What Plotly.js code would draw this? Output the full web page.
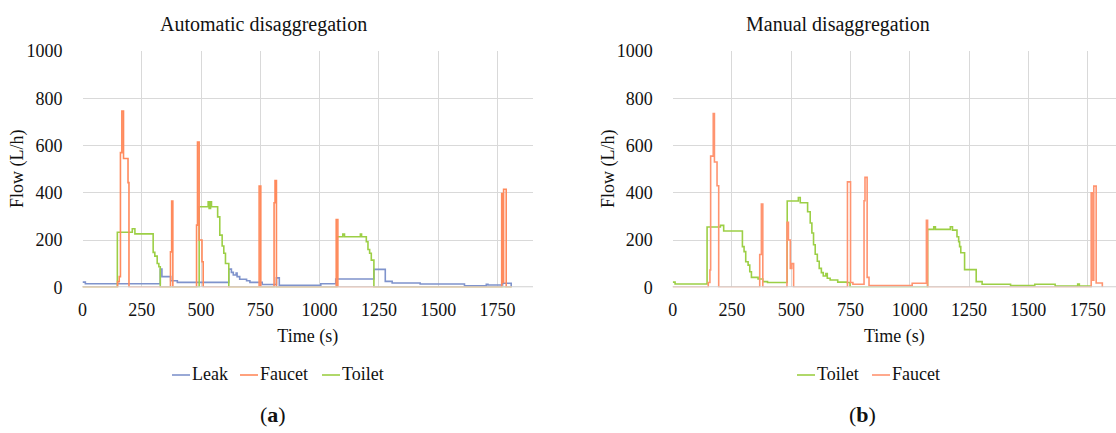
<!DOCTYPE html>
<html>
<head>
<meta charset="utf-8">
<script src="https://cdn.plot.ly/plotly-3.0.1.min.js"></script>
<style>
  html, body { margin: 0; padding: 0; background: #ffffff; }
  #chart { width: 1116px; height: 433px; }
</style>
</head>
<body>
<div id="chart"></div>
<script>
// ---- (a) Automatic disaggregation: step series, time in s, flow in L/h ----
const autoLeakT   = [0, 12, 328, 335, 372, 400, 617, 628, 636, 648, 652, 663, 692, 706, 758, 818, 830, 1005, 1068, 1229, 1277, 1306, 1424, 1611, 1703, 1710, 1772, 1808];
const autoLeakQ   = [22, 15, 77, 45, 28, 21, 77, 63, 52, 60, 45, 34, 28, 21, 12, 40, 8, 15, 35, 76, 25, 18, 14, 6, 13, 10, 17, 0];

const autoFaucetT = [0, 148, 155, 160, 166, 173, 192, 196, 371, 376, 381, 481, 485, 492, 504, 509, 745, 752, 808, 812, 818, 1070, 1077, 1768, 1772, 1776, 1787, 1810];
const autoFaucetQ = [0, 24, 45, 570, 746, 545, 443, 0, 150, 365, 0, 263, 615, 200, 108, 0, 428, 0, 358, 452, 0, 287, 0, 397, 20, 415, 0, 0];

const autoToiletT = [0, 147, 210, 221, 298, 305, 315, 322, 328, 492, 530, 534, 540, 544, 570, 579, 589, 596, 603, 617, 1073, 1098, 1105, 1172, 1177, 1197, 1204, 1211, 1218, 1229, 1810];
const autoToiletQ = [0, 233, 248, 226, 148, 132, 101, 87, 0, 341, 362, 334, 362, 341, 298, 221, 175, 144, 101, 0, 214, 225, 214, 225, 214, 193, 160, 144, 115, 0, 0];

// ---- (b) Manual disaggregation ----
const manToiletT  = [0, 10, 145, 201, 215, 294, 301, 308, 318, 325, 332, 360, 380, 400, 483, 530, 538, 569, 580, 587, 594, 601, 610, 618, 627, 635, 646, 652, 664, 696, 735, 748, 1075, 1101, 1108, 1171, 1180, 1199, 1206, 1210, 1215, 1231, 1280, 1305, 1425, 1527, 1613, 1708, 1715, 1762];
const manToiletQ  = [22, 14, 255, 262, 238, 172, 151, 108, 94, 66, 42, 35, 24, 20, 365, 380, 358, 320, 272, 230, 180, 140, 110, 80, 62, 48, 58, 38, 31, 22, 20, 0, 245, 256, 245, 256, 242, 214, 193, 172, 146, 75, 24, 13, 7, 13, 5, 14, 5, 0];

const manFaucetT  = [0, 150, 157, 160, 171, 176, 187, 194, 367, 374, 380, 482, 488, 496, 502, 510, 737, 750, 760, 807, 811, 820, 828, 1010, 1070, 1075, 1765, 1772, 1776, 1786, 1812];
const manFaucetQ  = [0, 20, 73, 555, 735, 530, 430, 0, 139, 352, 0, 275, 200, 80, 100, 0, 446, 20, 13, 366, 465, 42, 7, 17, 284, 0, 400, 30, 428, 18, 0];

// ---- legend entries per panel ----
const legendA = ['Leak', 'Faucet', 'Toilet'];
const legendB = ['Toilet', 'Faucet'];

const C = {
  leak: '#7F93CC',
  faucet: '#FF8A5C',
  faucetB: '#FF9470',
  toilet: '#9CCF45',
  grid: '#D9D9D9',
  axis: '#D0D0D0',
  text: '#111111'
};
const FONT = 'Liberation Serif, serif';
const W = 1116, H = 433;
const px = x => x / W;           // pixel -> paper x
const py = y => (H - y) / H;     // pixel -> paper y

function stepTrace(t, q, color, xa, ya, name) {
  return {
    x: t, y: q, name: name, type: 'scatter', mode: 'lines',
    line: { color: color, width: 1.6, shape: 'hv' },
    xaxis: xa, yaxis: ya, showlegend: false, hoverinfo: 'skip'
  };
}

const traces = [
  stepTrace(autoLeakT, autoLeakQ, C.leak, 'x', 'y', 'Leak'),
  stepTrace(autoToiletT, autoToiletQ, C.toilet, 'x', 'y', 'Toilet'),
  stepTrace(autoFaucetT, autoFaucetQ, C.faucet, 'x', 'y', 'Faucet'),
  stepTrace(manToiletT, manToiletQ, C.toilet, 'x2', 'y2', 'Toilet'),
  stepTrace(manFaucetT, manFaucetQ, C.faucetB, 'x2', 'y2', 'Faucet')
];

const yDom = [py(287.3), py(51)];

function xAxis(domain, range, anchor) {
  return {
    domain: domain, range: range, anchor: anchor, automargin: false,
    tickmode: 'linear', tick0: 0, dtick: 250,
    showgrid: true, gridcolor: C.grid, gridwidth: 1,
    zeroline: false, showline: false,
    ticks: '', ticklabelstandoff: 10,
    tickfont: { family: FONT, size: 18, color: C.text },
    title: { text: 'Time (s)', standoff: 10, font: { family: FONT, size: 18, color: C.text } },
    fixedrange: true
  };
}
function yAxis(anchor) {
  return {
    domain: yDom, range: [0, 1000], anchor: anchor, automargin: false,
    tickmode: 'linear', tick0: 0, dtick: 200,
    showgrid: true, gridcolor: C.grid, gridwidth: 1,
    zeroline: false, showline: false,
    ticks: '', ticklabelstandoff: 19,
    tickfont: { family: FONT, size: 18, color: C.text },
    fixedrange: true
  };
}

const annFont = { family: FONT, size: 18, color: C.text };
const annotations = [
  { text: 'Automatic disaggregation', x: px(263), y: py(25), font: { family: FONT, size: 20, color: C.text } },
  { text: 'Manual disaggregation', x: px(838), y: py(25), font: { family: FONT, size: 20, color: C.text } },
  { text: 'Flow (L/h)', x: px(17), y: py(169), textangle: -90, font: annFont },
  { text: 'Flow (L/h)', x: px(608), y: py(169), textangle: -90, font: annFont },
  { text: '(<b>a</b>)', x: px(273), y: py(414), font: { family: FONT, size: 22, color: C.text } },
  { text: '(<b>b</b>)', x: px(862), y: py(414), font: { family: FONT, size: 22, color: C.text } }
].map(a => Object.assign({ xref: 'paper', yref: 'paper', showarrow: false, xanchor: 'center', yanchor: 'middle' }, a));

// baseline of each panel, drawn over the series so zero-flow stretches stay grey
const shapes = [
  { type: 'line', xref: 'x domain', yref: 'y', x0: 0, x1: 1, y0: 0, y1: 0, layer: 'above', line: { color: C.axis, width: 2.2 } },
  { type: 'line', xref: 'x2 domain', yref: 'y2', x0: 0, x1: 1, y0: 0, y1: 0, layer: 'above', line: { color: C.axis, width: 2.2 } }
];

// hand-built legends: short line sample followed by the series name
function legendRow(names, colors, starts) {
  names.forEach((n, i) => {
    const x0 = starts[i];
    shapes.push({ type: 'line', xref: 'paper', yref: 'paper', x0: px(x0), x1: px(x0 + 18), y0: py(375), y1: py(375),
                  line: { color: colors[i], width: 1.6 } });
    annotations.push({ text: n, xref: 'paper', yref: 'paper', x: px(x0 + 18), y: py(374), xanchor: 'left', yanchor: 'middle',
                       showarrow: false, font: annFont });
  });
}
legendRow(legendA, [C.leak, C.faucet, C.toilet], [172, 240, 322]);
legendRow(legendB, [C.toilet, C.faucetB], [797, 872]);

const layout = {
  width: W, height: H,
  margin: { l: 0, r: 0, t: 0, b: 0, pad: 0 },
  paper_bgcolor: '#ffffff', plot_bgcolor: '#ffffff',
  showlegend: false,
  font: { family: FONT, size: 18, color: C.text },
  xaxis: xAxis([px(82.5), px(533)], [0, 1900], 'y'),
  yaxis: yAxis('x'),
  xaxis2: xAxis([px(672.7), 1], [0, (W - 672.7) / ((533 - 82.5) / 1900)], 'y2'),
  yaxis2: yAxis('x2'),
  annotations: annotations,
  shapes: shapes
};

Plotly.newPlot('chart', traces, layout, { staticPlot: true, displayModeBar: false });
</script>
</body>
</html>
